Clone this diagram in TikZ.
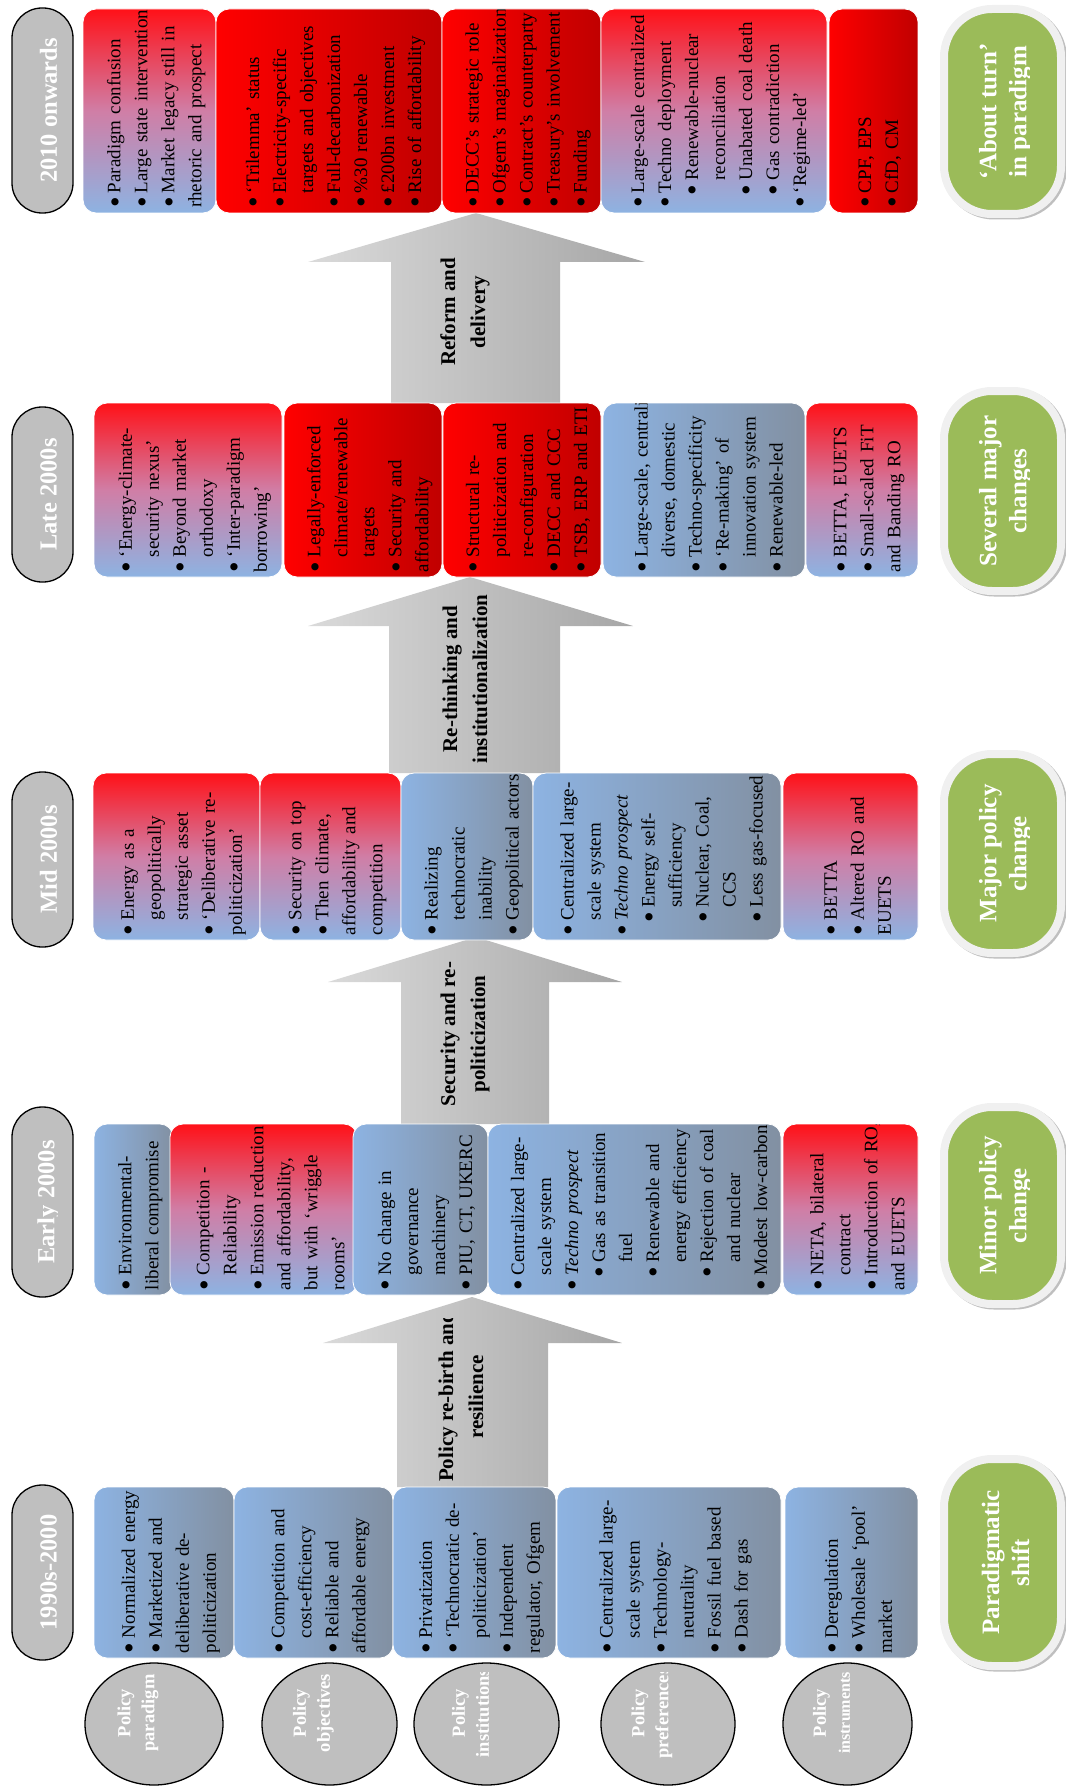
\documentclass[tikz,border=0pt]{standalone}
\usepackage{fontspec}
\setmainfont{Liberation Serif}
\usepackage{tikz}
\usetikzlibrary{shapes.geometric}

\definecolor{boxred}{RGB}{255,17,24}
\definecolor{boxbright}{RGB}{255,0,0}
\definecolor{boxdark}{RGB}{192,0,0}
\definecolor{boxblue}{RGB}{141,179,226}
\definecolor{boxpink}{RGB}{208,126,166}
\definecolor{boxgray}{RGB}{130,144,162}
\definecolor{dategray}{RGB}{191,191,191}
\definecolor{pillgreen}{RGB}{155,187,89}
\definecolor{ringwhite}{RGB}{240,240,240}
\definecolor{arrowlight}{RGB}{218,218,218}
\definecolor{arrowdark}{RGB}{166,166,166}

\tikzset{cellbox/.style={rectangle, rounded corners=13pt, draw=white, line width=0.8pt, anchor=north west, inner sep=0pt, outer sep=0pt},
  redblue/.style={top color=boxred, bottom color=boxblue, middle color=boxpink},
  bluegray/.style={left color=boxblue, right color=boxgray},
  reddark/.style={left color=boxbright, right color=boxdark},
  celltext/.style={rotate=90, anchor=west, text width=440pt, align=left, inner sep=0pt, font=\fontsize{19}{27}\selectfont},
  arrowfill/.style={left color=arrowlight, right color=arrowdark},
  arrowtext/.style={rotate=90, align=center, inner sep=0pt, font=\bfseries\fontsize{21}{30}\selectfont},
  datebox/.style={rectangle, rounded corners=30pt, draw=black, line width=1.3pt, fill=dategray, minimum width=61pt, inner sep=0pt, outer sep=0pt},
  datetext/.style={rotate=90, text=white, inner sep=0pt, font=\bfseries\fontsize{24.5}{28}\selectfont},
  pill/.style={rectangle, rounded corners=48pt, fill=pillgreen, draw=ringwhite, line width=8pt, minimum width=117pt, inner sep=0pt, outer sep=0pt,
    preaction={draw=black!25, line width=8pt, transform canvas={xshift=2pt,yshift=-1.5pt}}},
  pilltext/.style={rotate=90, align=center, text=white, inner sep=0pt, font=\bfseries\fontsize{25}{30}\selectfont},
  layer/.style={ellipse, draw=black, line width=1.3pt, fill=dategray, minimum height=122pt, inner sep=0pt, outer sep=0pt},
  layertext/.style={rotate=90, align=center, text=white, inner sep=0pt, font=\bfseries\fontsize{18.5}{24}\selectfont}}

% bullets
\newcommand{\bigdot}{\raisebox{-0.26em}{\scalebox{1.6}{\textbullet}}}
\newcommand{\itm}[1]{\par\hangindent=0.78em\hangafter=1\noindent\makebox[0.78em][l]{\bigdot}#1}
\newcommand{\sitm}[1]{\par\hangindent=1.45em\hangafter=1\noindent\hspace*{0.67em}\makebox[0.78em][l]{\bigdot}#1}

% name, shading, x1, y1, x2, y2, items
\newcommand{\cell}[7]{\node[cellbox, #2, minimum width={(#5-#3)*1pt}, minimum height={(#6-#4)*1pt},
  path picture={\node[celltext] (#1t) at ([yshift=5pt]path picture bounding box.south) {#7};}] (#1) at (#3,#4) {};}
\newcommand{\period}[4]{\node[datebox, minimum height={(#3-#2)*1pt},
  path picture={\clip (path picture bounding box.north west) rectangle ([xshift=-16pt]path picture bounding box.south east);
  \node[datetext] (#1t) at ([xshift=6pt]path picture bounding box.center) {#4};}] (#1) at (42.5,{(#2+#3)/2}) {};}
\newcommand{\verdict}[4]{\node[pill, minimum height={(#3-#2)*1pt},
  path picture={\clip (path picture bounding box.north west) rectangle ([xshift=-32pt]path picture bounding box.south east);
  \node[pilltext] (#1t) at ([xshift=3pt]path picture bounding box.center) {#4};}] (#1) at (1002.5,{(#2+#3)/2}) {};}
\newcommand{\level}[4]{\node[layer, minimum width=#3pt,
  path picture={\clip ([yshift=-9pt]path picture bounding box.north west) rectangle (path picture bounding box.south east);
  \node[layertext] (#1t) at ([xshift=-16pt,yshift=11pt]path picture bounding box.center) {#4};}] (#1) at (#2,1724) {};}

\begin{document}
\begin{tikzpicture}[x=1pt,y=-1pt]
\useasboundingbox (0,0) rectangle (1065,1787);

% arrows between the periods
\shade[arrowfill] (397,1487) -- (397,1343) -- (323,1343) -- (472,1297) -- (622,1343) -- (548,1343) -- (548,1487) -- cycle;
\begin{scope}
  \clip (323,1318) rectangle (622,1481);
  \node[arrowtext] (rebirth) at (461,1397) {Policy re-birth and\\resilience};
\end{scope}
\shade[arrowfill] (401,1124) -- (401,982) -- (328,982) -- (476,937) -- (622,982) -- (549,982) -- (549,1124) -- cycle;
\begin{scope}
  \clip (328,953) rectangle (622,1116);
  \node[arrowtext] (security) at (465,1034) {Security and re-\\politicization};
\end{scope}
\shade[arrowfill] (389,773) -- (389,626) -- (308,626) -- (470,577) -- (633,626) -- (560,626) -- (560,773) -- cycle;
\begin{scope}
  \clip (308,593) rectangle (633,765);
  \node[arrowtext] (rethink) at (465,679) {Re-thinking and\\institutionalization};
\end{scope}
\shade[arrowfill] (391,403) -- (391,262) -- (308,262) -- (476,213) -- (645,262) -- (560,262) -- (560,403) -- cycle;
\begin{scope}
  \clip (308,229) rectangle (645,395);
  \node[arrowtext] (reform) at (465,312) {Reform and\\delivery};
\end{scope}

% 1990s-2000
\cell{p90}{bluegray}{94}{1487}{234}{1658}{\itm{Normalized energy}\itm{Marketized and\newline deliberative de-\newline politicization}}
\cell{o90}{bluegray}{234}{1487}{393}{1658}{\itm{Competition and\newline cost-efficiency}\itm{Reliable and\newline affordable energy}}
\cell{i90}{bluegray}{393}{1487}{556}{1658}{\itm{Privatization}\itm{‘Technocratic de-\newline politicization’}\itm{Independent\newline regulator, Ofgem}}
\cell{f90}{bluegray}{557}{1487}{781}{1658}{\itm{Centralized large-\newline scale system}\itm{Technology-\newline neutrality}\itm{Fossil fuel based}\itm{Dash for gas}}
\cell{m90}{bluegray}{785}{1487}{918}{1658}{\itm{Deregulation}\itm{Wholesale ‘pool’\newline market}}

% early 2000s
\cell{p00}{bluegray}{94}{1124}{173}{1295}{\itm{Environmental-\newline liberal compromise}}
\cell{o00}{redblue}{170}{1124}{357}{1295}{\itm{Competition -\newline Reliability}\itm{Emission reduction\newline and affordability,\newline but with ‘wriggle\newline rooms’}}
\cell{i00}{bluegray}{353}{1124}{488}{1295}{\itm{No change in\newline governance\newline machinery}\itm{PIU, CT, UKERC}}
\cell{f00}{bluegray}{488}{1124}{781}{1295}{\itm{Centralized large-\newline scale system}\itm{\textit{Techno prospect}}\sitm{Gas as transition\newline fuel}\sitm{Renewable and\newline energy efficiency}\sitm{Rejection of coal\newline and nuclear}\itm{Modest low-carbon}}
\cell{m00}{redblue}{783}{1124}{918}{1295}{\itm{NETA, bilateral\newline contract}\itm{Introduction of RO,\newline and EUETS}}

% mid 2000s
\cell{p05}{redblue}{93}{773}{260}{940}{\itm{Energy as a\newline geopolitically\newline strategic asset}\itm{‘Deliberative re-\newline politicization’}}
\cell{o05}{redblue}{260}{773}{401}{940}{\itm{Security on top}\itm{Then climate,\newline affordability and\newline competition}}
\cell{i05}{bluegray}{401}{773}{533}{940}{\itm{Realizing\newline technocratic\newline inability}\itm{Geopolitical actors}}
\cell{f05}{bluegray}{533}{773}{781}{940}{\itm{Centralized large-\newline scale system}\itm{\textit{Techno prospect}}\sitm{Energy self-\newline sufficiency}\sitm{Nuclear, Coal,\newline CCS}\sitm{Less gas-focused}}
\cell{m05}{redblue}{783}{773}{918}{940}{\itm{BETTA}\itm{Altered RO and\newline EUETS}}

% late 2000s
\cell{p08}{redblue}{94}{403}{282}{577}{\itm{‘Energy-climate-\newline security nexus’}\itm{Beyond market\newline orthodoxy}\itm{‘Inter-paradigm\newline borrowing’}}
\cell{o08}{reddark}{284}{403}{442}{577}{\itm{Legally-enforced\newline climate/renewable\newline targets}\itm{Security and\newline affordability}}
\cell{i08}{reddark}{443}{403}{601}{577}{\itm{Structural re-\newline politicization and\newline re-configuration}\itm{DECC and CCC}\itm{TSB, ERP and ETI}}
\cell{f08}{bluegray}{603}{403}{805}{577}{\itm{Large-scale, centralized,\newline diverse, domestic}\itm{Techno-specificity}\itm{‘Re-making’ of\newline innovation system}\itm{Renewable-led}}
\cell{m08}{redblue}{806}{403}{918}{577}{\itm{BETTA, EUETS}\itm{Small-scaled FiT\newline and Banding RO}}

% 2010 onwards
\cell{p10}{redblue}{83}{9}{216}{213}{\itm{Paradigm confusion}\itm{Large state intervention}\itm{Market legacy still in\newline rhetoric and prospect}}
\cell{o10}{reddark}{216}{9}{442}{213}{\itm{‘Trilemma’ status}\itm{Electricity-specific\newline targets and objectives}\itm{Full-decarbonization}\itm{\%30 renewable}\itm{£200bn investment}\itm{Rise of affordability}}
\cell{i10}{reddark}{442}{9}{601}{213}{\itm{DECC’s strategic role}\itm{Ofgem’s maginalization}\itm{Contract’s counterparty}\itm{Treasury’s involvement}\itm{Funding}}
\cell{f10}{redblue}{601}{9}{827}{213}{\itm{Large-scale centralized}\itm{Techno deployment}\sitm{Renewable-nuclear\newline reconciliation}\sitm{Unabated coal death}\sitm{Gas contradiction}\itm{‘Regime-led’}}
\cell{m10}{reddark}{829}{9}{918}{213}{\itm{CPF, EPS}\itm{CfD, CM}}

% periods
\period{y90}{1485}{1660}{1990s-2000}
\period{y00}{1107}{1297}{Early 2000s}
\period{y05}{772}{947}{Mid 2000s}
\period{y08}{407}{582}{Late 2000s}
\period{y10}{8}{213}{2010 onwards}

% kind of change
\verdict{v90}{1459}{1666}{Paradigmatic\\shift}
\verdict{v00}{1107}{1304}{Minor policy\\change}
\verdict{v05}{754}{953}{Major policy\\change}
\verdict{v08}{391}{591}{Several major\\changes}
\verdict{v10}{9}{214}{‘About turn’\\in paradigm}

% policy levels
\level{paradigm}{154}{138}{Policy\\paradigm}
\level{objectives}{329.5}{135}{Policy\\objectives}
\level{institutions}{486.5}{145}{Policy\\institutions}
\level{preferences}{668}{134}{Policy\\preferences}
\level{instruments}{847.5}{129}{Policy\\{\fontsize{16}{24}\selectfont instruments}}
\end{tikzpicture}
\end{document}
